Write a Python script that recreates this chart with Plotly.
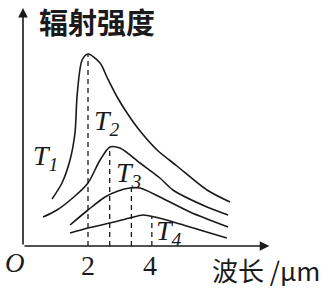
import plotly.graph_objects as go

# wavelength (μm) and radiation intensity (arbitrary units)
t1_x = [0.84, 1.16, 1.42, 1.58, 1.65, 1.81, 2.0, 2.39, 2.61, 2.94, 3.26, 3.68, 4.23, 4.87, 5.84, 6.58]
t1_y = [4.7, 6.3, 8.6, 11.3, 15.1, 18.6, 19.2, 18.3, 16.9, 14.9, 13.3, 11.5, 9.6, 8.0, 5.6, 4.4]
t2_x = [0.55, 1.0, 1.58, 2.0, 2.39, 2.71, 3.03, 3.68, 4.32, 4.74, 5.84, 6.52]
t2_y = [2.9, 3.6, 5.0, 6.3, 8.6, 9.9, 9.8, 8.3, 6.8, 5.6, 3.9, 3.1]
t3_x = [1.42, 2.0, 2.55, 2.97, 3.35, 3.68, 4.32, 5.29, 5.84, 6.52]
t3_y = [2.1, 3.6, 4.9, 5.5, 5.8, 5.8, 4.9, 3.4, 2.7, 1.9]
t4_x = [1.42, 2.0, 2.71, 3.35, 3.77, 4.16, 4.97, 5.61, 6.48]
t4_y = [1.3, 1.8, 2.3, 2.8, 3.1, 2.9, 2.2, 1.6, 0.8]

peak_x = [2.0, 2.7, 3.4, 4.06]
peak_y = [19.2, 9.9, 5.8, 3.0]

tick_vals = [2, 4]
tick_text = ["2", "4"]
labels = ["T<sub>1</sub>", "T<sub>2</sub>", "T<sub>3</sub>", "T<sub>4</sub>"]
label_x = [0.15, 2.12, 2.83, 4.12]
label_y = [8.9, 12.4, 7.2, 1.4]

W, H = 331, 290
ML, MB = 23, 44
PW, PH = W - ML, H - MB


def px2paper(px, py):
    return (px - ML) / PW, ((H - MB) - py) / PH


fig = go.Figure()
for xs, ys in [(t1_x, t1_y), (t2_x, t2_y), (t3_x, t3_y), (t4_x, t4_y)]:
    fig.add_trace(go.Scatter(x=xs, y=ys, mode="lines",
                             line=dict(color="#1a1a1a", width=1.6, shape="spline", smoothing=0.8),
                             hoverinfo="skip", showlegend=False))
for px, py in zip(peak_x, peak_y):
    fig.add_trace(go.Scatter(x=[px, px], y=[0, py], mode="lines",
                             line=dict(color="#1a1a1a", width=1.3, dash="5px,4px"),
                             hoverinfo="skip", showlegend=False))

ann = []
# axes with arrows
ann.append(dict(x=-0.097, y=23.8, ax=-0.097, ay=0, xref="x", yref="y", axref="x", ayref="y",
                showarrow=True, arrowhead=2, arrowsize=1.2, arrowwidth=1.6, arrowcolor="#1a1a1a", text=""))
ann.append(dict(x=7.85, y=0, ax=-0.097, ay=0, xref="x", yref="y", axref="x", ayref="y",
                showarrow=True, arrowhead=2, arrowsize=1.2, arrowwidth=1.6, arrowcolor="#1a1a1a", text=""))
for t, lx, ly in zip(labels, label_x, label_y):
    ann.append(dict(x=lx, y=ly, xref="x", yref="y", text="<i>" + t + "</i>", showarrow=False,
                    xanchor="left", yanchor="middle",
                    font=dict(family="Liberation Serif", size=28, color="#1a1a1a")))
ox, oy = px2paper(15, 263)
ann.append(dict(x=ox, y=oy, xref="paper", yref="paper", text="<i>O</i>", showarrow=False,
                xanchor="center", yanchor="middle",
                font=dict(family="Liberation Serif", size=27, color="#1a1a1a")))
tx, ty = px2paper(97, 21)
ann.append(dict(x=tx, y=ty, xref="paper", yref="paper", text="<b>辐射强度</b>", showarrow=False,
                xanchor="center", yanchor="middle", height=34,
                font=dict(family="Noto Sans CJK SC", size=29, color="#1a1a1a")))
bx, by = px2paper(266, 269)
ann.append(dict(x=bx, y=by, xref="paper", yref="paper", text="波长 /μm", showarrow=False,
                xanchor="center", yanchor="middle",
                font=dict(family="Noto Sans CJK SC", size=26, color="#1a1a1a")))

fig.update_layout(
    width=W, height=H,
    margin=dict(l=ML, r=0, t=0, b=MB),
    paper_bgcolor="white", plot_bgcolor="white",
    annotations=ann,
    xaxis=dict(range=[-0.097, 9.84], showgrid=False, zeroline=False, showline=False,
               tickvals=tick_vals, ticktext=tick_text, ticks="",
               tickfont=dict(family="Liberation Serif", size=28, color="#1a1a1a")),
    yaxis=dict(range=[0, 24.6], showgrid=False, zeroline=False, showline=False,
               showticklabels=False, ticks=""),
)
fig.write_html("out.html")
